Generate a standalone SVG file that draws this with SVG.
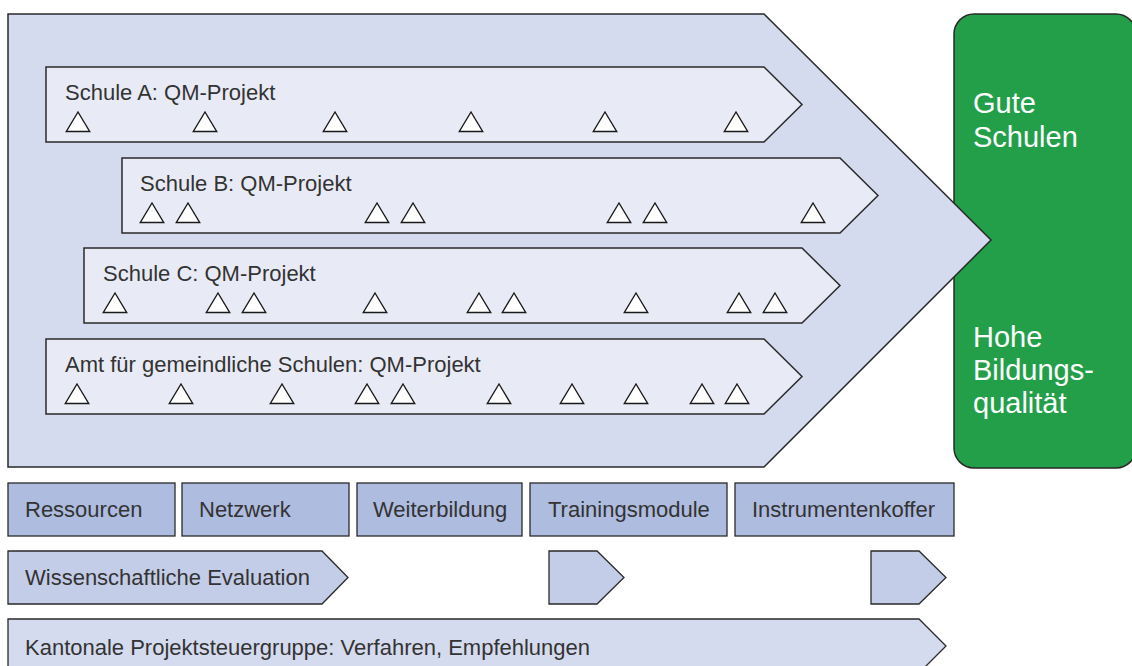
<svg xmlns="http://www.w3.org/2000/svg" xmlns:xlink="http://www.w3.org/1999/xlink" width="1132" height="666" viewBox="0 0 1132 666">
<style>
.frame{fill:#d5dbee;stroke:#2a2a2a;stroke-width:1.5}
.bar{fill:#e8ebf5;stroke:#2a2a2a;stroke-width:1.5}
.res{fill:#adbcdf;stroke:#2a2a2a;stroke-width:1.3}
.eval{fill:#c3cde8;stroke:#2a2a2a;stroke-width:1.3}
.kant{fill:#d5dbee;stroke:#2a2a2a;stroke-width:1.3}
.t{font-family:"Liberation Sans",Arial,sans-serif;font-size:22px;fill:#333333}
.g{font-family:"Liberation Sans",Arial,sans-serif;font-size:29px;fill:#ffffff}
.tri{fill:#ffffff;stroke:#1a1a1a;stroke-width:1.4;stroke-linejoin:miter}
</style>
<defs>
<path id="tri" class="tri" d="M0,0 L11.7,19.5 L-11.7,19.5 Z"/>
</defs>
<g id="goal">
<rect x="954" y="14" width="182" height="454" rx="20" ry="20" fill="#239f4a" stroke="#2a2a2a" stroke-width="1.5"/>
<text class="g" x="973" y="113">Gute</text>
<text class="g" x="973" y="147">Schulen</text>
<text class="g" x="973" y="347">Hohe</text>
<text class="g" x="973" y="380">Bildungs-</text>
<text class="g" x="973" y="413">qualität</text>
</g>
<g id="frame">
<polygon class="frame" points="8,14 764,14 991,240 764,467 8,467"/>
</g>
<g id="schule-a">
<polygon class="bar" points="46,67 764,67 802,104.5 764,142 46,142"/>
<text class="t" x="65" y="100">Schule A: QM-Projekt</text>
<use xlink:href="#tri" href="#tri" x="78" y="112"/>
<use xlink:href="#tri" href="#tri" x="205" y="112"/>
<use xlink:href="#tri" href="#tri" x="335" y="112"/>
<use xlink:href="#tri" href="#tri" x="471" y="112"/>
<use xlink:href="#tri" href="#tri" x="605" y="112"/>
<use xlink:href="#tri" href="#tri" x="736" y="112"/>
</g>
<g id="schule-b">
<polygon class="bar" points="122,158 840,158 878,195.5 840,233 122,233"/>
<text class="t" x="140" y="191">Schule B: QM-Projekt</text>
<use xlink:href="#tri" href="#tri" x="152" y="203"/>
<use xlink:href="#tri" href="#tri" x="188" y="203"/>
<use xlink:href="#tri" href="#tri" x="377" y="203"/>
<use xlink:href="#tri" href="#tri" x="413" y="203"/>
<use xlink:href="#tri" href="#tri" x="619" y="203"/>
<use xlink:href="#tri" href="#tri" x="655" y="203"/>
<use xlink:href="#tri" href="#tri" x="813" y="203"/>
</g>
<g id="schule-c">
<polygon class="bar" points="84,248 802,248 840,285.5 802,323 84,323"/>
<text class="t" x="103" y="281">Schule C: QM-Projekt</text>
<use xlink:href="#tri" href="#tri" x="115" y="293"/>
<use xlink:href="#tri" href="#tri" x="218" y="293"/>
<use xlink:href="#tri" href="#tri" x="254" y="293"/>
<use xlink:href="#tri" href="#tri" x="375" y="293"/>
<use xlink:href="#tri" href="#tri" x="479" y="293"/>
<use xlink:href="#tri" href="#tri" x="514" y="293"/>
<use xlink:href="#tri" href="#tri" x="636" y="293"/>
<use xlink:href="#tri" href="#tri" x="739" y="293"/>
<use xlink:href="#tri" href="#tri" x="775" y="293"/>
</g>
<g id="amt">
<polygon class="bar" points="46,339 764,339 802,376.5 764,414 46,414"/>
<text class="t" x="65" y="372">Amt für gemeindliche Schulen: QM-Projekt</text>
<use xlink:href="#tri" href="#tri" x="77" y="384"/>
<use xlink:href="#tri" href="#tri" x="181" y="384"/>
<use xlink:href="#tri" href="#tri" x="282" y="384"/>
<use xlink:href="#tri" href="#tri" x="367" y="384"/>
<use xlink:href="#tri" href="#tri" x="403" y="384"/>
<use xlink:href="#tri" href="#tri" x="499" y="384"/>
<use xlink:href="#tri" href="#tri" x="572" y="384"/>
<use xlink:href="#tri" href="#tri" x="636" y="384"/>
<use xlink:href="#tri" href="#tri" x="702" y="384"/>
<use xlink:href="#tri" href="#tri" x="737" y="384"/>
</g>
<g id="ressourcen">
<rect class="res" x="8" y="483" width="167" height="53"/>
<text class="t" x="25" y="517">Ressourcen</text>
</g>
<g id="netzwerk">
<rect class="res" x="182" y="483" width="167" height="53"/>
<text class="t" x="199" y="517">Netzwerk</text>
</g>
<g id="weiterbildung">
<rect class="res" x="357" y="483" width="165" height="53"/>
<text class="t" x="373" y="517">Weiterbildung</text>
</g>
<g id="trainingsmodule">
<rect class="res" x="530" y="483" width="197" height="53"/>
<text class="t" x="548" y="517">Trainingsmodule</text>
</g>
<g id="instrumentenkoffer">
<rect class="res" x="735" y="483" width="219" height="53"/>
<text class="t" x="752" y="517">Instrumentenkoffer</text>
</g>
<g id="evaluation">
<polygon class="eval" points="8,551 322,551 348,577.5 322,604 8,604"/>
<text class="t" x="25" y="585">Wissenschaftliche Evaluation</text>
</g>
<g id="evaluation-2">
<polygon class="eval" points="549,551 597,551 624,577.5 597,604 549,604"/>
</g>
<g id="evaluation-3">
<polygon class="eval" points="871,551 919,551 946,577.5 919,604 871,604"/>
</g>
<g id="steuergruppe">
<polygon class="kant" points="8,619 919,619 946,646 919,673 8,673"/>
<text class="t" x="25" y="655">Kantonale Projektsteuergruppe: Verfahren, Empfehlungen</text>
</g>
</svg>
